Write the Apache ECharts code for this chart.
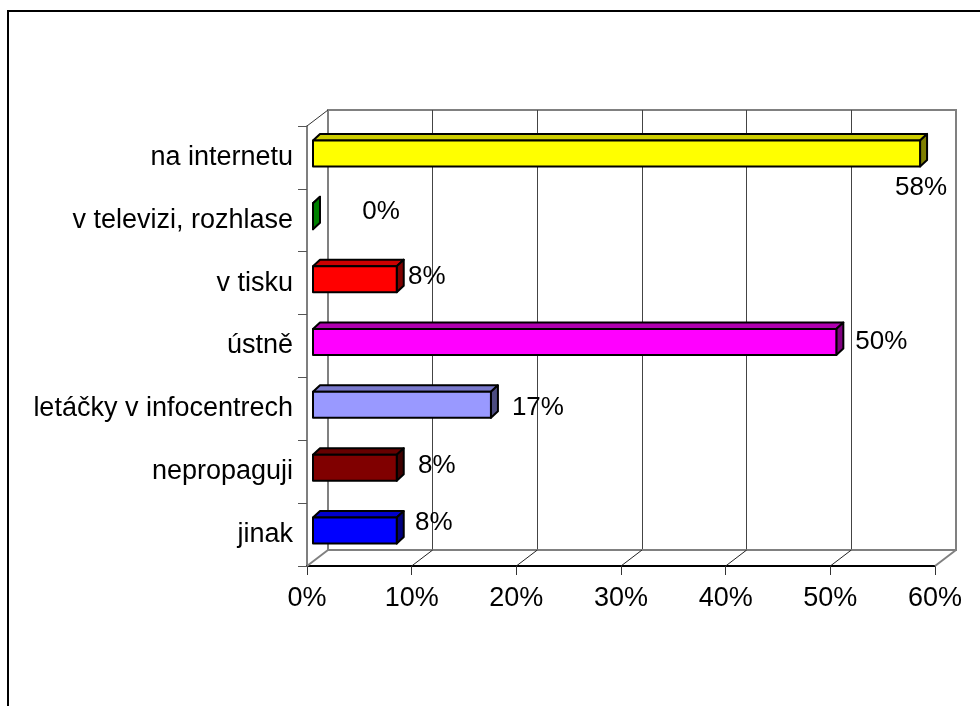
<!DOCTYPE html>
<html>
<head>
<meta charset="utf-8">
<title>Propagace</title>
<script src="https://cdn.jsdelivr.net/npm/echarts@6/dist/echarts.min.js"></script>
<style>
  html, body { margin: 0; padding: 0; background: #fff; }
  #chart { width: 980px; height: 706px; }
</style>
</head>
<body>
<div id="chart"></div>
<script>
// Categories listed top to bottom
const CATEGORIES = [
  'na internetu',
  'v televizi, rozhlase',
  'v tisku',
  'ústně',
  'letáčky v infocentrech',
  'nepropaguji',
  'jinak'
];
// Share of answers in percent
const VALUES = [58, 0, 8, 50, 17, 8, 8];
// Axis ticks in percent
const X_TICKS = [0, 10, 20, 30, 40, 50, 60];

// Bar face colours: front, top, side
const FRONT = ['#FFFF00', '#00FF00', '#FF0000', '#FF00FF', '#9999FF', '#800000', '#0000FF'];
const TOP   = ['#CCCC00', '#00CC00', '#CC0000', '#B000B0', '#7A7ACC', '#660000', '#0000CC'];
const SIDE  = ['#808000', '#008000', '#800000', '#800080', '#4C4C80', '#400000', '#000080'];

// Where each value label sits relative to the bar's front end
const LABEL_SHIFT = [[1, 34], [68, -4], [30, -2], [45, 0], [47, 3], [40, -2], [37, -8]];

// Depth of the 3-D box (back wall offset) and of each bar
const BOX_DX = 21, BOX_DY = -16;
const BAR_FX = 6, BAR_FY = -4;      // bar front plane inside the box
const BAR_DX = 7, BAR_DY = -6.5;    // bar thickness in depth
const BAR_H = 26;

const FONT = "'Liberation Sans', Arial, sans-serif";
const FS_CAT = 27;
const FS_TICK = 27;
const FS_VAL = 26;

const chart = echarts.init(document.getElementById('chart'), null, { renderer: 'canvas' });

function renderBar(params, api) {
  const i = params.dataIndex;
  const v = api.value(0);
  const cat = api.value(1);
  const p0 = api.coord([0, cat]);
  const p1 = api.coord([v, cat]);
  const x0 = p0[0] + BAR_FX;
  const x1 = p1[0] + BAR_FX;
  const yc = p0[1] + BAR_FY;
  const yT = yc - BAR_H / 2;
  const yB = yc + BAR_H / 2;
  const stroke = { stroke: '#000', lineWidth: 2, lineJoin: 'round' };
  const children = [];
  // top face
  children.push({
    type: 'polygon',
    shape: { points: [[x0, yT], [x1, yT], [x1 + BAR_DX, yT + BAR_DY], [x0 + BAR_DX, yT + BAR_DY]] },
    style: Object.assign({ fill: TOP[i] }, stroke)
  });
  // side face
  children.push({
    type: 'polygon',
    shape: { points: [[x1, yT], [x1 + BAR_DX, yT + BAR_DY], [x1 + BAR_DX, yB + BAR_DY], [x1, yB]] },
    style: Object.assign({ fill: SIDE[i] }, stroke)
  });
  // front face
  children.push({
    type: 'rect',
    shape: { x: x0, y: yT, width: Math.max(x1 - x0, 0), height: BAR_H },
    style: Object.assign({ fill: FRONT[i] }, stroke)
  });
  // value label
  children.push({
    type: 'text',
    z2: 10,
    style: {
      text: v + '%',
      x: x1 + LABEL_SHIFT[i][0],
      y: yc + LABEL_SHIFT[i][1],
      align: 'center',
      verticalAlign: 'middle',
      fill: '#000',
      font: FS_VAL + 'px ' + FONT
    }
  });
  return { type: 'group', children: children };
}

function renderFloor(params, api) {
  const band = api.size([0, 1])[1];
  const last = CATEGORIES.length - 1;
  const yBot = api.coord([0, last])[1] + band / 2;
  const yTop = api.coord([0, 0])[1] - band / 2;
  const xL = api.coord([X_TICKS[0], 0])[0];
  const xR = api.coord([X_TICKS[X_TICKS.length - 1], 0])[0];
  const gray = { stroke: '#808080', lineWidth: 2 };
  const thin = { stroke: '#222', lineWidth: 1 };
  const children = [];
  // back edge of the floor
  children.push({ type: 'line', shape: { x1: xL + BOX_DX, y1: yBot + BOX_DY, x2: xR + BOX_DX, y2: yBot + BOX_DY }, style: gray });
  // floor lines running into depth at each tick
  X_TICKS.forEach(function (t, k) {
    const x = api.coord([t, 0])[0];
    const edge = (k === 0 || k === X_TICKS.length - 1);
    children.push({
      type: 'line',
      shape: { x1: x, y1: yBot, x2: x + BOX_DX, y2: yBot + BOX_DY },
      style: edge ? gray : thin
    });
  });
  // top edge of the left wall
  children.push({ type: 'line', shape: { x1: xL, y1: yTop, x2: xL + BOX_DX, y2: yTop + BOX_DY }, style: { stroke: '#333', lineWidth: 1 } });
  return { type: 'group', children: children };
}

const option = {
  backgroundColor: '#ffffff',
  animation: false,
  textStyle: { fontFamily: FONT },
  graphic: [{
    type: 'rect',
    shape: { x: 8, y: 11, width: 1000, height: 1000 },
    style: { fill: 'none', stroke: '#000', lineWidth: 2 },
    silent: true,
    z: 0
  }],
  grid: [
    // front plane of the box: carries the axes
    { left: 307, right: 45, top: 126, bottom: 140, containLabel: false },
    // back wall of the box
    { left: 307 + BOX_DX, right: 45 - BOX_DX, top: 126 + BOX_DY, bottom: 140 - BOX_DY,
      show: true, borderColor: '#808080', borderWidth: 2, backgroundColor: 'transparent' }
  ],
  xAxis: [
    {
      gridIndex: 0, type: 'value', min: 0, max: 60, interval: 10,
      axisLine: { show: true, onZero: false, lineStyle: { color: '#000', width: 2 } },
      axisTick: { show: true, length: 9, lineStyle: { color: '#333', width: 1 } },
      axisLabel: { formatter: '{value}%', color: '#000', fontSize: FS_TICK, fontFamily: FONT, margin: 19 },
      splitLine: { show: false }
    },
    {
      gridIndex: 1, type: 'value', min: 0, max: 60, interval: 10,
      axisLine: { show: false }, axisTick: { show: false }, axisLabel: { show: false },
      splitLine: { show: true, showMinLine: false, showMaxLine: false, lineStyle: { color: '#444', width: 1 } }
    }
  ],
  yAxis: [
    {
      gridIndex: 0, type: 'category', data: CATEGORIES, inverse: true,
      axisLine: { show: true, lineStyle: { color: '#555', width: 1.5 } },
      axisTick: { show: true, length: 9, lineStyle: { color: '#555', width: 1 } },
      axisLabel: { color: '#000', fontSize: FS_CAT, fontFamily: FONT, margin: 14 },
      splitLine: { show: false }
    },
    {
      gridIndex: 1, type: 'category', data: CATEGORIES, inverse: true,
      axisLine: { show: false }, axisTick: { show: false }, axisLabel: { show: false },
      splitLine: { show: false }
    }
  ],
  series: [
    {
      type: 'custom',
      name: 'floor',
      xAxisIndex: 0, yAxisIndex: 0,
      renderItem: renderFloor,
      data: [[0, CATEGORIES[0]]],
      silent: true,
      z: 1
    },
    {
      type: 'custom',
      name: 'bars',
      xAxisIndex: 0, yAxisIndex: 0,
      renderItem: renderBar,
      encode: { x: 0, y: 1 },
      data: VALUES.map(function (v, i) { return [v, CATEGORIES[i]]; }),
      z: 5
    }
  ]
};

chart.setOption(option);
</script>
</body>
</html>
